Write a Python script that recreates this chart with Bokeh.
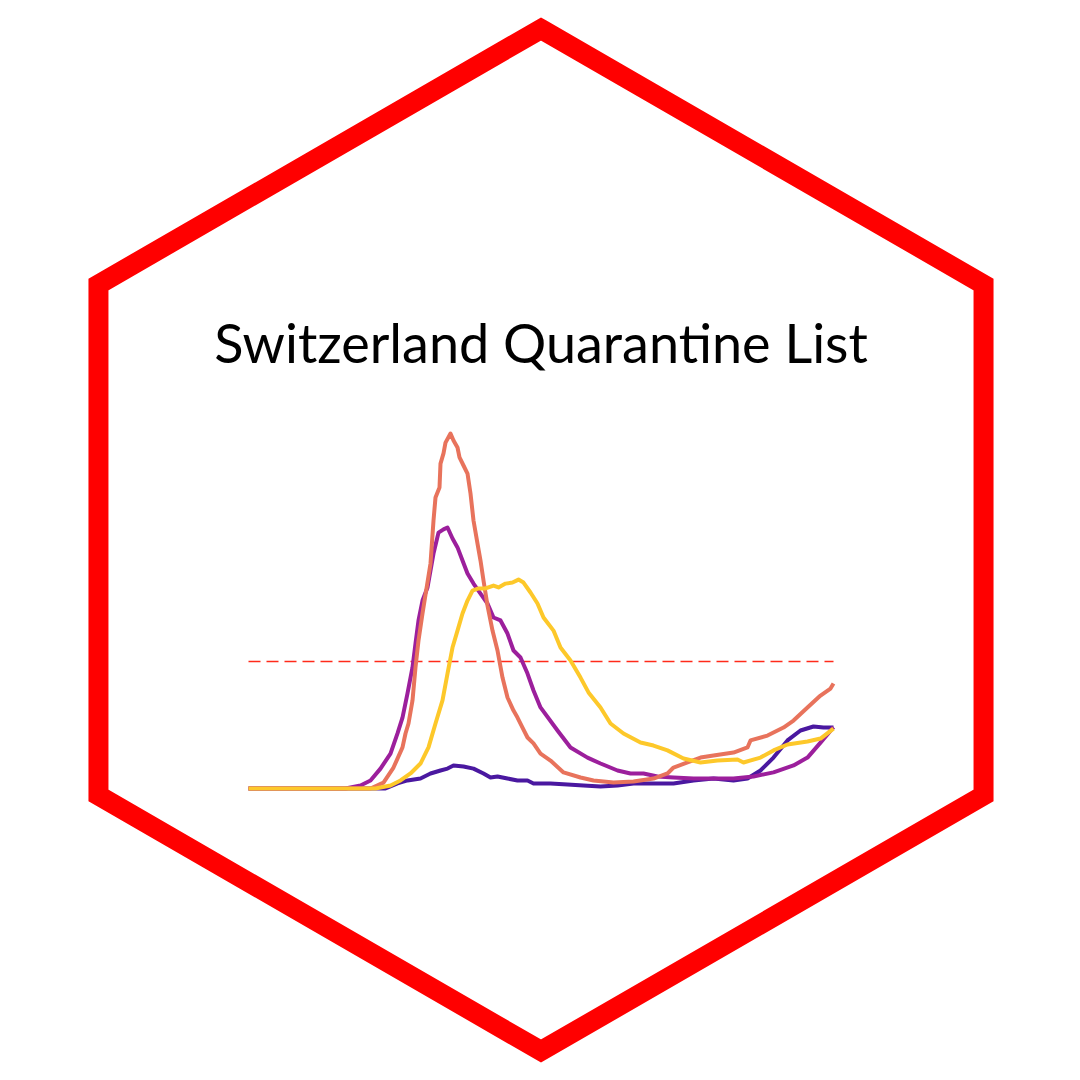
import math

from bokeh.core.properties import value
from bokeh.embed import file_html
from bokeh.models import Range1d
from bokeh.plotting import figure
from bokeh.resources import INLINE

# 14-day incidence per 100k (x = day index)
indigo_days = [0, 137, 149, 159, 172, 182, 192, 199, 205, 215, 225, 235, 242, 249, 259,
               269, 279, 285, 302, 319, 335, 352, 369, 385, 402, 425, 445, 465, 485, 499,
               512, 525, 539, 552, 565, 575, 585]
indigo_vals = [0, 0, 2.4, 3.8, 4.7, 7.1, 8.5, 9.4, 10.9, 10.4, 9.4, 7.1, 5.2, 5.7, 4.7,
               3.8, 3.8, 2.4, 2.4, 1.9, 1.4, 0.9, 1.4, 2.4, 2.4, 2.4, 3.8, 4.7, 3.8, 4.7,
               8.5, 14.6, 22.7, 27.4, 29.3, 28.8, 28.8]

purple_days = [0, 97, 112, 122, 132, 142, 149, 154, 159, 164, 167, 170, 174, 179, 185,
               190, 195, 199, 204, 209, 214, 219, 225, 232, 239, 245, 252, 259, 265, 272,
               279, 285, 292, 309, 322, 339, 352, 369, 382, 395, 409, 425, 445, 465, 485,
               505, 525, 545, 559, 572, 585]
purple_vals = [0, 0, 1.4, 3.8, 9.4, 16.5, 26.0, 33.5, 44.9, 57.2, 68.5, 79.4, 88.8, 95.0, 111.0,
               120.9, 122.4, 123.3, 118.1, 113.9, 107.7, 101.6, 96.8, 92.1, 87.4, 80.8, 79.4, 73.2, 65.2, 61.9,
               54.3, 46.3, 38.3, 27.4, 19.4, 14.6, 11.8, 8.5, 7.1, 7.1, 5.7, 5.2, 4.7, 4.7, 4.7,
               5.7, 7.6, 10.9, 14.6, 21.7, 29.0]

salmon_days = [0, 122, 135, 145, 154, 157, 160, 164, 167, 170, 174, 182, 185, 187, 191,
               192, 195, 197, 202, 205, 209, 211, 215, 219, 222, 225, 229, 232, 235, 239,
               244, 249, 254, 259, 265, 269, 274, 279, 285, 292, 302, 315, 332, 345, 365,
               385, 405, 419, 425, 439, 452, 465, 485, 499, 502, 519, 535, 545, 559, 572,
               582, 585]
salmon_vals = [0, 0, 2.8, 9.9, 19.4, 26.0, 30.7, 41.6, 57.2, 69.9, 82.7, 106.3, 126.6, 137.5, 142.2,
               153.5, 158.3, 163.4, 167.7, 164.4, 161.1, 156.4, 152.6, 148.8, 139.4, 126.6, 115.7, 107.7, 98.3, 86.4,
               74.6, 65.2, 52.4, 43.0, 36.8, 33.5, 28.8, 24.1, 21.3, 16.5, 13.2, 7.6, 5.2, 3.8, 2.8,
               3.3, 4.7, 7.1, 9.9, 12.3, 14.6, 15.6, 17.0, 19.4, 22.7, 25.0, 28.8, 32.1, 38.3, 43.9,
               47.2, 49.6]

yellow_days = [0, 127, 142, 152, 162, 172, 180, 187, 194, 199, 204, 209, 214, 219, 224,
               230, 237, 245, 250, 257, 264, 270, 275, 282, 289, 295, 305, 312, 322, 332,
               340, 352, 362, 375, 392, 405, 419, 435, 452, 469, 489, 495, 512, 525, 539,
               559, 572, 585]
yellow_vals = [0, 0, 1.4, 3.8, 7.1, 11.8, 19.4, 30.7, 41.6, 54.3, 66.6, 74.6, 82.7, 88.8, 93.5,
               94.5, 94.5, 95.9, 95.0, 96.8, 97.3, 98.7, 97.3, 92.6, 87.4, 80.8, 74.6, 66.6, 60.5, 52.4,
               45.4, 38.3, 30.7, 26.0, 21.7, 20.3, 18.0, 14.2, 12.3, 13.2, 13.7, 12.3, 14.6, 18.0, 20.8,
               22.2, 23.6, 28.3]

threshold = 60
title = "Switzerland Quarantine List"


def create_plot():
    px_per_unit = 127 / 60  # vertical pixels per incidence unit
    y0 = -276 / px_per_unit
    p = figure(
        width=1064,
        height=1064,
        x_range=Range1d(-248, 816),
        y_range=Range1d(y0, y0 + 1064 / px_per_unit),
        output_backend="svg",
        toolbar_location=None,
        x_axis_location=None,
        y_axis_location=None,
        min_border=0,
    )
    p.outline_line_color = None
    p.grid.visible = False

    # hexagon frame
    cx, cy, r = 292.5, 248.5 / px_per_unit, 511
    angles = [90, 30, -30, -90, -150, 150]
    hx = [cx + r * math.cos(math.radians(a)) for a in angles]
    hy = [cy + r * math.sin(math.radians(a)) / px_per_unit for a in angles]
    p.patch(hx, hy, fill_color=None, line_color="#FF0000", line_width=20, line_join="miter")

    # title
    p.text(x=[cx], y=[446 / px_per_unit], text=[title], text_font=value("Lato"),
           text_font_size="54px", text_align="center", text_baseline="alphabetic",
           text_color="black")

    # threshold
    p.line([indigo_days[0], indigo_days[-1]], [threshold, threshold], line_color="#FF2A1A",
           line_width=1.6, line_dash="12 6")

    lw = 4
    p.line(indigo_days, indigo_vals, line_color="#4A18A0", line_width=lw, line_join="round")
    p.line(purple_days, purple_vals, line_color="#9C1F9C", line_width=lw, line_join="round")
    p.line(salmon_days, salmon_vals, line_color="#E8735C", line_width=lw, line_join="round")
    p.line(yellow_days, yellow_vals, line_color="#FDC82A", line_width=lw, line_join="round")
    return p


p = create_plot()
open("out.html", "w").write(file_html(p, INLINE))
